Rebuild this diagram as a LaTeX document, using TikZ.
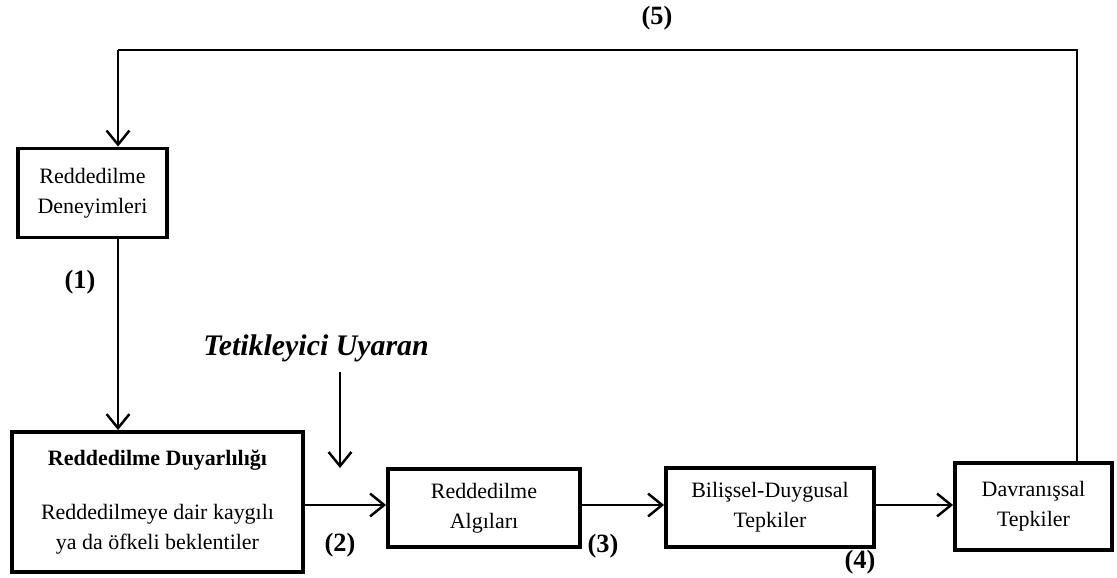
\documentclass[tikz,border=0pt]{standalone}
\usepackage{fontspec}
\setmainfont{Liberation Serif}
\usetikzlibrary{arrows.meta}
\tikzset{
  box/.style={draw, line width=2.2pt, align=center, inner sep=2pt,
    font=\fontsize{12.5}{17}\selectfont},
  arr/.style={line width=1.4pt, -{Straight Barb[length=8pt, width=13pt, line width=1.4pt]}},
  line/.style={line width=1.4pt},
  num/.style={font=\fontsize{15}{18}\selectfont\bfseries}
}
\begin{document}
\begin{tikzpicture}[x=0.02cm, y=-0.02cm]
  \useasboundingbox (0,0) rectangle (1117,578);
  % boxes
  \node[box, minimum width=2.98cm, minimum height=1.78cm] (A) at (92.5,193) {Reddedilme\\Deneyimleri};
  \node[box, minimum width=5.82cm, minimum height=2.8cm] (B) at (157.5,502)
    {\textbf{Reddedilme Duyarlılığı}\\[14pt]Reddedilmeye dair kaygılı\\ya da öfkeli beklentiler};
  \node[box, minimum width=3.84cm, minimum height=1.56cm] (C) at (484,508) {Reddedilme\\Algıları};
  \node[box, minimum width=4.16cm, minimum height=1.58cm] (D) at (770,507.5) {Bilişsel-Duygusal\\Tepkiler};
  \node[box, minimum width=3.14cm, minimum height=1.74cm] (E) at (1033.5,506.5) {Davranışsal\\Tepkiler};
  % trigger
  \node[font=\fontsize{17}{20}\selectfont\bfseries\itshape] (T) at (316,348) {Tetikleyici Uyaran};
  \coordinate (trigS) at (340,372);
  \coordinate (trigE) at (340,468);
  \draw[arr] (trigS) -- (trigE);
  % feedback loop
  \coordinate (fbR) at (1077,50);
  \coordinate (fbL) at (118,50);
  \draw[line] (E.north -| fbR) -- (fbR) -- (fbL);
  \draw[arr] (fbL) -- (fbL |- A.north);
  \draw[arr] (A.south -| fbL) -- (B.north -| fbL);
  % main chain
  \draw[arr] (B.east |- 0,505) -- (C.west |- 0,505);
  \draw[arr] (C.east |- 0,505) -- (D.west |- 0,505);
  \draw[arr] (D.east |- 0,505) -- (E.west |- 0,505);
  % numbers
  \node[num] (n1) at (80,282) {(1)};
  \node[num] (n2) at (340,545) {(2)};
  \node[num] (n3) at (603,546) {(3)};
  \node[num] (n4) at (860,562) {(4)};
  \node[num] (n5) at (657,18) {(5)};
\end{tikzpicture}
\end{document}
